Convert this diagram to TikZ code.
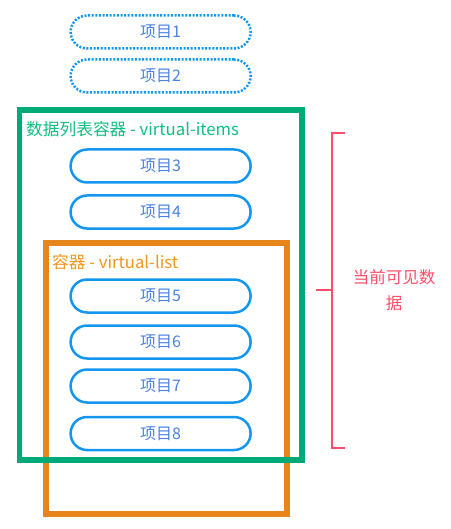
\documentclass[tikz,border=0pt]{standalone}
\usepackage{fontspec}
\setmainfont{Noto Sans CJK SC}
\definecolor{itemblue}{HTML}{1296F0}
\definecolor{itemtext}{HTML}{4A82E6}
\definecolor{boxgreen}{HTML}{00AA78}
\definecolor{txtgreen}{HTML}{10BE80}
\definecolor{boxorange}{HTML}{E6861A}
\definecolor{txtorange}{HTML}{F0961E}
\definecolor{markred}{HTML}{FF4D6A}
\begin{document}
\begin{tikzpicture}[x=1pt,y=-1pt,
  item/.style={draw=itemblue,line width=2.5pt,rounded corners=16.5pt,minimum width=180pt,minimum height=33pt,inner sep=0pt,text=itemtext,font=\fontsize{16}{18}\selectfont},
  hidden/.style={item,dash pattern=on 2pt off 1.6pt},
  boxlabel/.style={anchor=west,inner sep=0pt,font=\fontsize{16.7}{18}\selectfont}]
\useasboundingbox (0,0) rectangle (450,529);
% containers
\draw[boxorange,line width=5.5pt] (46,243) rectangle (287,514);
\draw[boxgreen,line width=5.5pt] (19.5,110) rectangle (302,460);
\node[boxlabel,text=txtgreen] (lg) at (26,129) {数据列表容器 - virtual-items};
\node[boxlabel,text=txtorange] (lo) at (52,262) {容器 - virtual-list};
% items
\node[hidden] (i1) at (160.6,32) {项目1};
\node[hidden] (i2) at (160.6,76) {项目2};
\node[item] (i3) at (160.6,166) {项目3};
\node[item] (i4) at (160.6,212) {项目4};
\node[item] (i5) at (160.6,296) {项目5};
\node[item] (i6) at (160.6,342) {项目6};
\node[item] (i7) at (160.6,386) {项目7};
\node[item] (i8) at (160.6,433.5) {项目8};
% bracket
\coordinate (bt) at (345,133);
\coordinate (bb) at (345,447.5);
\coordinate (bm) at (316,290);
\draw[markred,line width=2pt] (bt) -- (331.5,133) -- (331.5,447.5) -- (bb);
\draw[markred,line width=2pt] (bm) -- (331.5,290);
\node[text=markred,align=center,inner sep=0pt,font=\fontsize{16.5}{26}\selectfont] (vis) at (394,290) {当前可见数\\据};
\end{tikzpicture}
\end{document}
